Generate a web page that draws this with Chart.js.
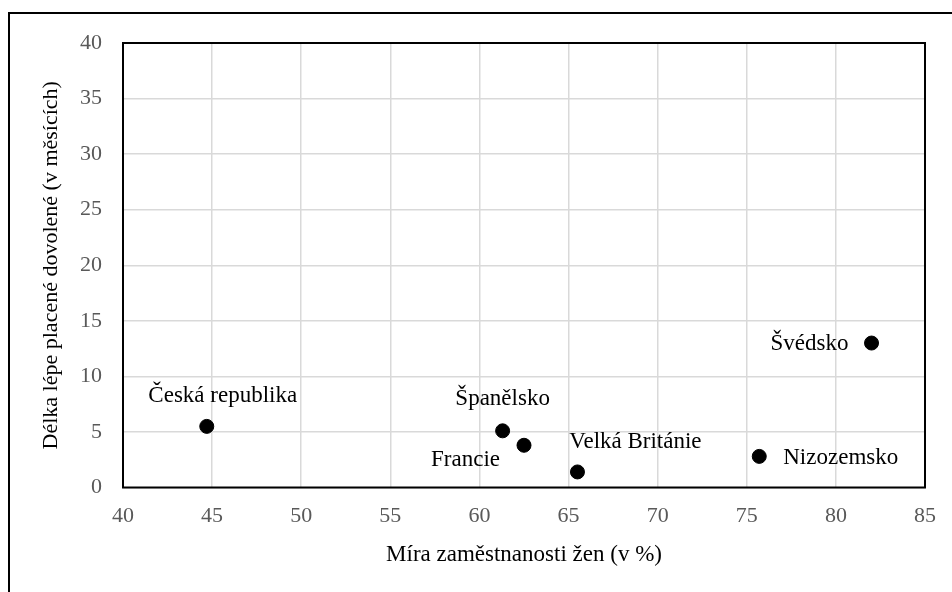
<!DOCTYPE html>
<html>
<head>
<meta charset="utf-8">
<script src="https://cdn.jsdelivr.net/npm/chart.js@4"></script>
<style>
  body { margin: 0; background: #fff; }
  #wrap { width: 952px; height: 592px; position: relative; }
</style>
</head>
<body>
<div id="wrap"><canvas id="myChart"></canvas></div>
<script>
// data
const zeme = ['Česká republika', 'Španělsko', 'Francie', 'Velká Británie', 'Nizozemsko', 'Švédsko'];
const zamestnanost = [44.7, 61.3, 62.5, 65.5, 75.7, 82.0];
const dovolena = [5.5, 5.1, 3.8, 1.4, 2.8, 13.0];
const xTicks = [40, 45, 50, 55, 60, 65, 70, 75, 80, 85];
const yTicks = [0, 5, 10, 15, 20, 25, 30, 35, 40];

// where the country name sits next to its point (dx, dy, align)
const popisky = [
  [16, -30, 'center'],
  [0, -32, 'center'],
  [-24, 15, 'right'],
  [58, -30, 'center'],
  [24, 2, 'left'],
  [-23, 1, 'right']
];

const body = zamestnanost.map((x, i) => ({ x: x, y: dovolena[i] }));

const pismo = '"Liberation Serif", "Times New Roman", serif';

// ramecek okolo plochy grafu a okolo celeho obrazku
const ramecek = {
  id: 'ramecek',
  afterDatasetsDraw(chart) {
    const ctx = chart.ctx;
    const a = chart.chartArea;
    ctx.save();
    ctx.strokeStyle = '#000';
    ctx.lineWidth = 2;
    ctx.strokeRect(a.left, a.top, a.right - a.left, a.bottom - a.top);
    ctx.beginPath();
    ctx.moveTo(9, 600);
    ctx.lineTo(9, 13);
    ctx.lineTo(960, 13);
    ctx.stroke();
    ctx.restore();
  }
};

const popiskyPlugin = {
  id: 'popisky',
  afterDatasetsDraw(chart) {
    const ctx = chart.ctx;
    const meta = chart.getDatasetMeta(0);
    ctx.save();
    ctx.font = '23px ' + pismo;
    ctx.fillStyle = '#000';
    ctx.textBaseline = 'middle';
    meta.data.forEach((pt, i) => {
      const p = popisky[i];
      ctx.textAlign = p[2];
      ctx.fillText(zeme[i], pt.x + p[0], pt.y + p[1]);
    });
    ctx.restore();
  }
};

const data = {
  datasets: [{
    label: 'Země',
    data: body,
    backgroundColor: '#000',
    borderColor: '#000',
    pointRadius: 7,
    pointHoverRadius: 7
  }]
};

const config = {
  type: 'scatter',
  data: data,
  options: {
    responsive: false,
    animation: false,
    layout: { padding: { left: 0, top: 43, right: 26, bottom: 0 } },
    plugins: {
      legend: { display: false },
      tooltip: { enabled: false }
    },
    scales: {
      x: {
        min: 40,
        max: 85,
        afterBuildTicks: (axis) => { axis.ticks = xTicks.map(v => ({ value: v })); },
        afterFit: (axis) => { axis.height = 104.5; },
        grid: { color: '#d9d9d9', lineWidth: 1.5, drawTicks: false },
        border: { display: false },
        ticks: {
          color: '#595959',
          padding: 16,
          maxRotation: 0,
          font: { family: pismo, size: 22 }
        },
        title: {
          display: true,
          text: 'Míra zaměstnanosti žen (v %)',
          color: '#000',
          padding: { top: 0, bottom: 23 },
          font: { family: pismo, size: 23 }
        }
      },
      y: {
        min: 0,
        max: 40,
        afterBuildTicks: (axis) => { axis.ticks = yTicks.map(v => ({ value: v })); },
        afterFit: (axis) => { axis.width = 123; },
        grid: { color: '#d9d9d9', lineWidth: 1.5, drawTicks: false },
        border: { display: false },
        ticks: {
          color: '#595959',
          padding: 21,
          font: { family: pismo, size: 22 }
        },
        title: {
          display: true,
          text: 'Délka lépe placené dovolené (v měsících)',
          color: '#000',
          padding: { top: 38, bottom: 0 },
          font: { family: pismo, size: 22 }
        }
      }
    }
  },
  plugins: [ramecek, popiskyPlugin]
};

const canvas = document.getElementById('myChart');
canvas.width = 952;
canvas.height = 592;
const myChart = new Chart(canvas, config);
</script>
</body>
</html>
